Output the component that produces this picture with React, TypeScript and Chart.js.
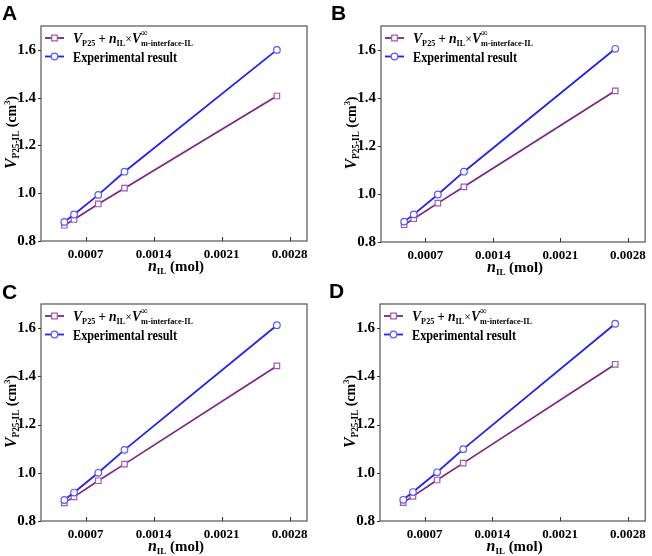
import React, { useEffect, useRef } from 'react';
import { Chart, registerables } from 'chart.js';

Chart.register(...registerables);

// ---- data ----
const nIL = [0.00048, 0.00058, 0.00083, 0.0011, 0.00267];
const xTicks = [0.0007, 0.0014, 0.0021, 0.0028];
const yTicks = [0.8, 1.0, 1.2, 1.4, 1.6];
const panelLabels = ['A', 'B', 'C', 'D'];

const calcA = [0.866, 0.89, 0.955, 1.021, 1.407];
const expA = [0.88, 0.911, 0.993, 1.09, 1.6];
const calcB = [0.872, 0.897, 0.962, 1.03, 1.43];
const expB = [0.885, 0.915, 0.998, 1.093, 1.605];
const calcC = [0.875, 0.9, 0.967, 1.036, 1.443];
const expC = [0.887, 0.918, 1.0, 1.095, 1.612];
const calcD = [0.876, 0.902, 0.97, 1.04, 1.45];
const expD = [0.888, 0.92, 1.002, 1.098, 1.618];

const calcSeries = [calcA, calcB, calcC, calcD];
const expSeries = [expA, expB, expC, expD];

const expLabel = 'Experimental result';

// ---- layout (per panel) ----
type Panel = { ox: number; oy: number; w: number; h: number; L: number; T: number; R: number; B: number; lx: number; ly: number };
const panels: Panel[] = [
  { ox: 0, oy: 0, w: 326, h: 278, L: 41, T: 26, R: 307, B: 241, lx: 2, ly: 20 },
  { ox: 326, oy: 0, w: 326, h: 278, L: 55, T: 26, R: 322, B: 242, lx: 5, ly: 20 },
  { ox: 0, oy: 278, w: 326, h: 278, L: 41, T: 26, R: 307, B: 243, lx: 2, ly: 21 },
  { ox: 326, oy: 278, w: 326, h: 278, L: 54, T: 26, R: 322, B: 243, lx: 3, ly: 20 },
];

const BLUE = '#2323f0';
const BLUE_PT = '#5a5aff';
const PURPLE = '#7a2383';
const PURPLE_PT = '#a557b3';
const SERIF = '"Liberation Serif", "Times New Roman", serif';

type Seg = { t: string; f: string; dy?: number; adv?: boolean };

function richWidth(ctx: CanvasRenderingContext2D, segs: Seg[]) {
  let w = 0;
  for (const s of segs) {
    ctx.font = s.f;
    if (s.adv !== false) w += ctx.measureText(s.t).width;
  }
  return w;
}
function drawRich(ctx: CanvasRenderingContext2D, x: number, y: number, segs: Seg[]) {
  let cx = x;
  for (const s of segs) {
    ctx.font = s.f;
    ctx.fillText(s.t, cx, y + (s.dy || 0));
    if (s.adv !== false) cx += ctx.measureText(s.t).width;
  }
}
function drawScaled(ctx: CanvasRenderingContext2D, x: number, y: number, segs: Seg[], target: number, align: 'left' | 'center', rot = 0) {
  const w = richWidth(ctx, segs);
  const s = target / w;
  ctx.save();
  ctx.translate(x, y);
  if (rot) ctx.rotate(rot);
  ctx.scale(s, 1);
  ctx.textAlign = 'left';
  ctx.textBaseline = 'alphabetic';
  drawRich(ctx, align === 'center' ? -w / 2 : 0, 0, segs);
  ctx.restore();
}

const bi = (n: number) => `italic bold ${n}px ${SERIF}`;
const b = (n: number) => `bold ${n}px ${SERIF}`;

function makePlugin(p: Panel, letter: string) {
  return {
    id: 'deco' + letter,
    afterDraw(chart: any) {
      const ctx: CanvasRenderingContext2D = chart.ctx;
      const { left, right, top, bottom } = chart.chartArea;
      const xs = chart.scales.x;
      const ys = chart.scales.y;
      ctx.save();
      // box
      ctx.strokeStyle = '#555';
      ctx.lineWidth = 1.2;
      ctx.strokeRect(left, top, right - left, bottom - top);
      // ticks
      ctx.lineWidth = 1;
      ctx.strokeStyle = '#333';
      ctx.beginPath();
      for (const v of xTicks) {
        const px = Math.round(xs.getPixelForValue(v)) + 0.5;
        ctx.moveTo(px, bottom);
        ctx.lineTo(px, bottom - 4);
      }
      for (const v of yTicks) {
        const py = Math.round(ys.getPixelForValue(v)) + 0.5;
        ctx.moveTo(left - 3, py);
        ctx.lineTo(left, py);
      }
      ctx.stroke();

      ctx.fillStyle = '#000';
      // panel letter
      ctx.font = `bold 21px "Liberation Sans", Arial, sans-serif`;
      ctx.textAlign = 'left';
      ctx.textBaseline = 'alphabetic';
      ctx.fillText(letter, p.lx, p.ly);

      // y title
      const yTitle: Seg[] = [
        { t: 'V', f: bi(17) },
        { t: 'P25-IL', f: b(10), dy: 3 },
        { t: ' (cm', f: b(15) },
        { t: '3', f: b(9), dy: -6 },
        { t: ')', f: b(15) },
      ];
      drawScaled(ctx, left - 25.5, (top + bottom) / 2 - 1, yTitle, 73, 'center', -Math.PI / 2);

      // x title
      const xTitle: Seg[] = [
        { t: 'n', f: bi(16) },
        { t: 'IL', f: b(9), dy: 3 },
        { t: ' (mol)', f: b(15) },
      ];
      drawScaled(ctx, (left + right) / 2 + 2, bottom + 30, xTitle, 56, 'center');

      // legend
      const rows = [
        { y: top + 12, color: PURPLE, pc: PURPLE_PT, shape: 'rect' },
        { y: top + 30.5, color: BLUE, pc: BLUE_PT, shape: 'circle' },
      ];
      for (const r of rows) {
        ctx.strokeStyle = r.color;
        ctx.lineWidth = 1.8;
        ctx.beginPath();
        ctx.moveTo(left + 4, r.y);
        ctx.lineTo(left + 23, r.y);
        ctx.stroke();
        ctx.fillStyle = '#fff';
        ctx.strokeStyle = r.pc;
        ctx.lineWidth = 1.2;
        ctx.beginPath();
        const mx = left + 13.5;
        if (r.shape === 'rect') ctx.rect(mx - 2.8, r.y - 2.8, 5.6, 5.6);
        else ctx.arc(mx, r.y, 3.3, 0, Math.PI * 2);
        ctx.fill();
        ctx.stroke();
      }
      ctx.fillStyle = '#000';
      const leg1: Seg[] = [
        { t: 'V', f: bi(15) },
        { t: 'P25', f: b(9), dy: 3 },
        { t: ' + ', f: b(14) },
        { t: 'n', f: bi(15) },
        { t: 'IL', f: b(9), dy: 3 },
        { t: '×', f: `13px ${SERIF}` },
        { t: 'V', f: bi(15) },
        { t: '∞', f: b(10), dy: -7, adv: false },
        { t: 'm-interface-IL', f: b(9), dy: 3 },
      ];
      drawScaled(ctx, left + 32, top + 17, leg1, 120, 'left');
      const leg2: Seg[] = [{ t: expLabel, f: b(15) }];
      drawScaled(ctx, left + 32, top + 35.5, leg2, 104, 'left');
      ctx.restore();
    },
  };
}

function ChartPanel({ idx }: { idx: number }) {
  const ref = useRef<HTMLCanvasElement>(null);
  const p = panels[idx];
  useEffect(() => {
    if (!ref.current) return;
    const chart = new Chart(ref.current, {
      type: 'line',
      data: {
        datasets: [
          {
            label: expLabel,
            data: nIL.map((x, i) => ({ x, y: expSeries[idx][i] })),
            borderColor: BLUE,
            borderWidth: 1.8,
            pointStyle: 'circle',
            pointRadius: 3.3,
            pointBorderColor: BLUE_PT,
            pointBackgroundColor: '#fff',
            pointBorderWidth: 1.2,
            tension: 0,
          },
          {
            label: 'calc',
            data: nIL.map((x, i) => ({ x, y: calcSeries[idx][i] })),
            borderColor: PURPLE,
            borderWidth: 1.6,
            pointStyle: 'rect',
            pointRadius: 3.9,
            pointBorderColor: PURPLE_PT,
            pointBackgroundColor: '#fff',
            pointBorderWidth: 1.2,
            tension: 0,
          },
        ],
      },
      options: {
        responsive: false,
        animation: false,
        layout: { padding: { top: p.T, right: p.w - p.R, left: 0, bottom: 0 } },
        plugins: { legend: { display: false }, tooltip: { enabled: false } },
        scales: {
          x: {
            type: 'linear',
            min: 0.00024,
            max: 0.00298,
            afterBuildTicks: (s: any) => {
              s.ticks = xTicks.map((v) => ({ value: v }));
            },
            afterFit: (s: any) => {
              s.height = p.h - p.B;
            },
            grid: { display: false, drawTicks: false },
            border: { display: false },
            ticks: {
              font: { family: SERIF, weight: 'bold', size: 13 },
              color: '#000',
              padding: 6,
              maxRotation: 0,
              autoSkip: false,
              callback: (v: any) => Number(v).toFixed(4),
            },
          },
          y: {
            type: 'linear',
            min: 0.8,
            max: 1.7,
            afterBuildTicks: (s: any) => {
              s.ticks = yTicks.map((v) => ({ value: v }));
            },
            afterFit: (s: any) => {
              s.width = p.L;
            },
            grid: { display: false, drawTicks: false },
            border: { display: false },
            ticks: {
              font: { family: SERIF, weight: 'bold', size: 15 },
              color: '#000',
              padding: 5,
              callback: (v: any) => Number(v).toFixed(1),
            },
          },
        },
      },
      plugins: [makePlugin(p, panelLabels[idx])],
    } as any);
    return () => chart.destroy();
  }, [idx]);
  return (
    <canvas
      ref={ref}
      width={p.w}
      height={p.h}
      style={{ position: 'absolute', left: p.ox, top: p.oy, width: p.w, height: p.h }}
    />
  );
}

export default function App() {
  return (
    <div style={{ position: 'absolute', left: 0, top: 0, width: 652, height: 556, background: '#fff' }}>
      {panels.map((_, i) => (
        <ChartPanel key={i} idx={i} />
      ))}
    </div>
  );
}
